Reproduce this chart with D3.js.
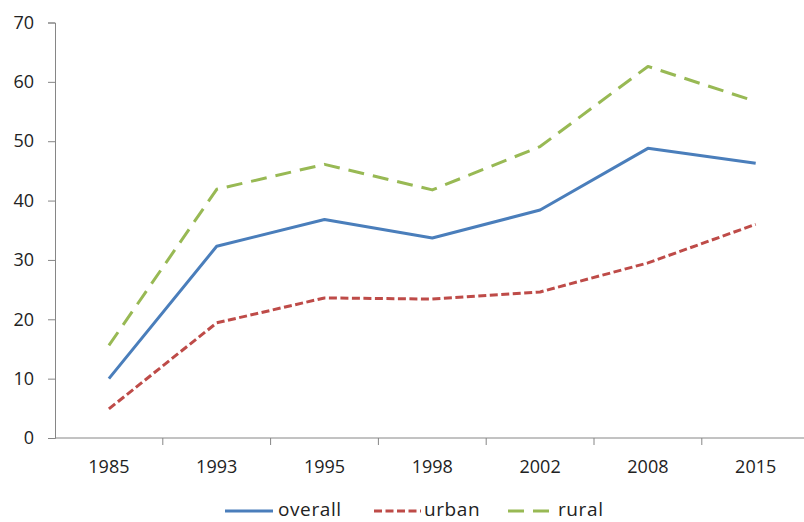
<!DOCTYPE html>
<html>
<head>
<meta charset="utf-8">
<script src="https://cdn.jsdelivr.net/npm/d3@7"></script>
<style>
  html, body { margin: 0; padding: 0; background: #fff; }
  svg { display: block; }
  text { font-family: "Open Sans", sans-serif; fill: #222; }
</style>
</head>
<body>
<svg id="chart" width="804" height="522"></svg>
<script>
// Survey years on the category axis
const years = ["1985", "1993", "1995", "1998", "2002", "2008", "2015"];

// Series values by year
const overall = [10.0, 32.3, 36.8, 33.7, 38.4, 48.8, 46.3];
const urban   = [4.9, 19.4, 23.6, 23.4, 24.6, 29.5, 36.0];
const rural   = [15.6, 41.9, 46.1, 41.8, 49.1, 62.6, 56.7];

const seriesNames = ["overall", "urban", "rural"];
const yTicks = [0, 10, 20, 30, 40, 50, 60, 70];

const series = [
  { name: seriesNames[0], values: overall, color: "#4a7ebb", dash: null },
  { name: seriesNames[1], values: urban,   color: "#be4b48", dash: "8,3.5" },
  { name: seriesNames[2], values: rural,   color: "#98b954", dash: "16,9" }
];

const svg = d3.select("#chart");
const axisColor = "#868686";

const x = d3.scaleBand().domain(years).range([55, 809.6]).padding(0);
const y = d3.scaleLinear().domain([0, 70]).range([438, 22.5]);

// Y axis
const yAxis = svg.append("g")
  .attr("transform", "translate(55,0)")
  .call(d3.axisLeft(y).tickValues(yTicks).tickSize(7).tickPadding(14).tickFormat(d3.format("d")));
yAxis.select(".domain").attr("stroke", axisColor).attr("stroke-width", 1);
yAxis.selectAll(".tick line").attr("stroke", axisColor);
yAxis.selectAll(".tick text").attr("font-size", 18).attr("font-family", "Open Sans, sans-serif").attr("fill", "#222");

// X axis: ticks on category boundaries, labels centred in bands
const xAxisG = svg.append("g").attr("transform", "translate(0,438)");
xAxisG.append("line")
  .attr("x1", 55).attr("x2", 809.6).attr("y1", 0).attr("y2", 0)
  .attr("stroke", axisColor).attr("stroke-width", 1);
xAxisG.selectAll("line.tick")
  .data(years.slice(1))
  .enter().append("line")
  .attr("class", "tick")
  .attr("x1", d => x(d)).attr("x2", d => x(d))
  .attr("y1", 0).attr("y2", 7)
  .attr("stroke", axisColor);
xAxisG.selectAll("text")
  .data(years)
  .enter().append("text")
  .attr("x", d => x(d) + x.bandwidth() / 2)
  .attr("y", 35)
  .attr("text-anchor", "middle")
  .attr("font-size", 18)
  .text(d => d);

// Lines
const line = d3.line()
  .x((d, i) => x(years[i]) + x.bandwidth() / 2)
  .y(d => y(d));

svg.append("g").selectAll("path")
  .data(series)
  .enter().append("path")
  .attr("d", s => line(s.values))
  .attr("fill", "none")
  .attr("stroke", s => s.color)
  .attr("stroke-width", 3)
  .attr("stroke-linejoin", "round")
  .attr("stroke-dasharray", s => s.dash);

// Legend
const legendItems = [
  { s: series[0], x1: 225, x2: 273, tx: 278 },
  { s: series[1], x1: 374, x2: 421, tx: 424 },
  { s: series[2], x1: 508, x2: 554, tx: 558 }
];
const legend = svg.append("g");
legendItems.forEach(it => {
  legend.append("line")
    .attr("x1", it.x1).attr("x2", it.x2)
    .attr("y1", 511).attr("y2", 511)
    .attr("stroke", it.s.color)
    .attr("stroke-width", 3)
    .attr("stroke-dasharray", it.s.dash);
  legend.append("text")
    .attr("x", it.tx).attr("y", 516)
    .attr("font-size", 19)
    .attr("letter-spacing", 0.6)
    .text(it.s.name);
});
</script>
</body>
</html>
